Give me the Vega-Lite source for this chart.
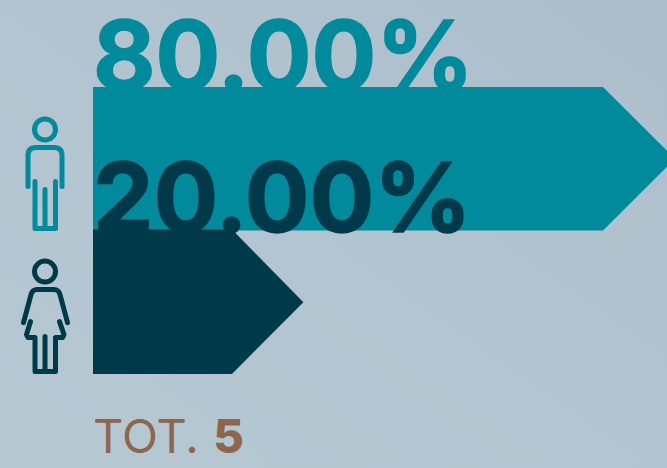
{
"$schema":"https://vega.github.io/schema/vega-lite/v6.json",
"width":667,"height":468,"autosize":{"type":"fit","contains":"padding"},"padding":0,
"background":"#b0c2cd",
"config":{"view":{"stroke":null}},
"datasets":{
"arrows":[
{"gender":"man","pos":0,"low":0,"high":1},
{"gender":"man","pos":80,"low":0,"high":1},
{"gender":"man","pos":91.3,"low":0.5,"high":0.5},
{"gender":"woman","pos":0,"low":0.993,"high":2},
{"gender":"woman","pos":21.8,"low":0.993,"high":2},
{"gender":"woman","pos":33,"low":1.5,"high":1.5}
],
"labels":[
{"gender":"man","pos":0,"level":0.021,"label":"80.00%","icon":-7.53,"iconLevel":0.61},
{"gender":"woman","pos":0,"level":1.01,"label":"20.00%","icon":-7.53,"iconLevel":1.6}
],
"total":[{"pos":0,"level":2.552,"label":"TOT.","countPos":18.85,"count":"5"}]
},
"encoding":{
"x":{"type":"quantitative","scale":{"domain":[-14.59,90.04],"nice":false,"zero":false},"axis":null},
"y":{"type":"quantitative","scale":{"domain":[2.655,-0.606],"nice":false,"zero":false},"axis":null}
},
"layer":[
{"data":{"values":[{"panel":"background"}]},
 "mark":{"type":"rect","fill":{"gradient":"linear","x1":0,"y1":1,"x2":1,"y2":0,"stops":[{"offset":0,"color":"#b6c9d3"},{"offset":0.5,"color":"#b1c4cf"},{"offset":1,"color":"#adbecc"}]}},
 "encoding":{"x":{"value":0},"x2":{"value":667},"y":{"value":0},"y2":{"value":468}}},
{"data":{"name":"labels"},"transform":[{"filter":"datum.gender==='man'"}],
 "mark":{"type":"text","font":"Inter","fontWeight":700,"fontSize":96,"align":"left","baseline":"alphabetic","color":"#008a9b","stroke":"#008a9b","strokeWidth":1.5},
 "encoding":{"x":{"field":"pos","type":"quantitative"},"y":{"field":"level","type":"quantitative"},"text":{"field":"label"}}},
{"data":{"name":"arrows"},"transform":[{"filter":"datum.gender==='man'"}],
 "mark":{"type":"area","orient":"vertical","color":"#008a9b","clip":true},
 "encoding":{"x":{"field":"pos","type":"quantitative"},"y":{"field":"low","type":"quantitative"},"y2":{"field":"high"}}},
{"data":{"name":"labels"},"transform":[{"filter":"datum.gender==='woman'"}],
 "mark":{"type":"text","font":"Inter","fontWeight":700,"fontSize":96,"align":"left","baseline":"alphabetic","color":"#003a4a","stroke":"#003a4a","strokeWidth":1.5},
 "encoding":{"x":{"field":"pos","type":"quantitative"},"y":{"field":"level","type":"quantitative"},"text":{"field":"label"}}},
{"data":{"name":"arrows"},"transform":[{"filter":"datum.gender==='woman'"}],
 "mark":{"type":"area","orient":"vertical","color":"#003a4a"},
 "encoding":{"x":{"field":"pos","type":"quantitative"},"y":{"field":"low","type":"quantitative"},"y2":{"field":"high"}}},
{"data":{"name":"labels"},"transform":[{"filter":"datum.gender==='man'"}],
 "mark":{"type":"point","filled":false,"opacity":1,"size":40000,"stroke":"#008a9b","strokeWidth":5,"strokeCap":"round","strokeJoin":"round",
 "shape":"M-.105,-.45 C-.105,-.508 -.058,-.555 0,-.555 C.058,-.555 .105,-.508 .105,-.45 C.105,-.392 .058,-.345 0,-.345 C-.058,-.345 -.105,-.392 -.105,-.45 Z M-.17,.12 L-.17,-.19 Q-.17,-.27 -.09,-.27 L.09,-.27 Q.17,-.27 .17,-.19 L.17,.12 M-.10,.07 L-.10,.54 L.105,.54 L.105,.07 M0,.15 L0,.54"},
 "encoding":{"x":{"field":"icon","type":"quantitative"},"y":{"field":"iconLevel","type":"quantitative"}}},
{"data":{"name":"labels"},"transform":[{"filter":"datum.gender==='woman'"}],
 "mark":{"type":"point","filled":false,"opacity":1,"size":40000,"stroke":"#003a4a","strokeWidth":5,"strokeCap":"round","strokeJoin":"round",
 "shape":"M-.105,-.45 C-.105,-.508 -.058,-.555 0,-.555 C.058,-.555 .105,-.508 .105,-.45 C.105,-.392 .058,-.345 0,-.345 C-.058,-.345 -.105,-.392 -.105,-.45 Z M-.215,.06 L-.14,-.22 Q-.125,-.27 -.08,-.27 L.09,-.27 Q.135,-.27 .15,-.22 L.225,.06 M-.145,.05 L-.185,.18 L-.17,.21 L-.10,.21 L-.10,.55 L.105,.55 L.105,.21 L.175,.21 L.19,.18 L.145,.05 M0,.2 L0,.55"},
 "encoding":{"x":{"field":"icon","type":"quantitative"},"y":{"field":"iconLevel","type":"quantitative"}}},
{"data":{"name":"total"},
 "mark":{"type":"text","font":"Inter","fontWeight":400,"fontSize":47,"align":"left","baseline":"alphabetic","color":"#8f654d"},
 "encoding":{"x":{"field":"pos","type":"quantitative"},"y":{"field":"level","type":"quantitative"},"text":{"field":"label"}}},
{"data":{"name":"total"},
 "mark":{"type":"text","font":"Inter","fontWeight":800,"fontSize":47,"align":"left","baseline":"alphabetic","color":"#8f654d"},
 "encoding":{"x":{"field":"countPos","type":"quantitative"},"y":{"field":"level","type":"quantitative"},"text":{"field":"count"}}}
]
}
